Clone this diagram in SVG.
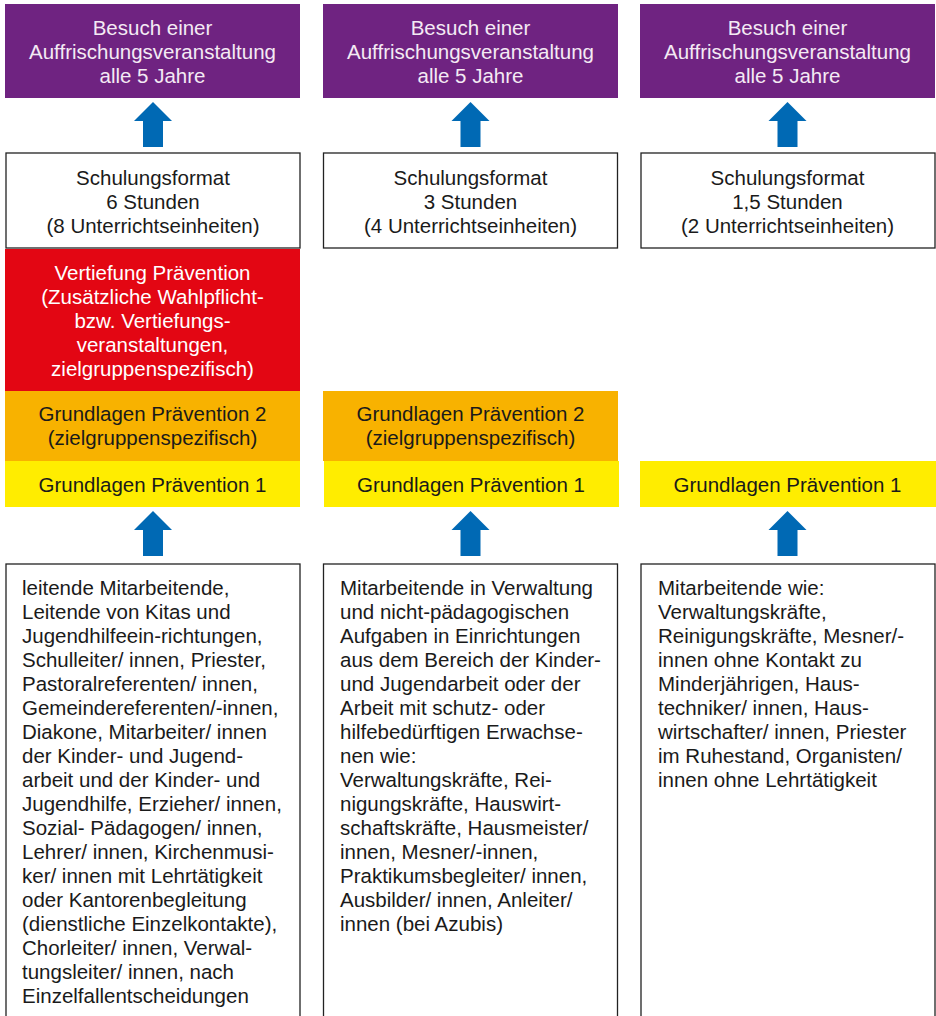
<svg xmlns="http://www.w3.org/2000/svg" width="936" height="1016" viewBox="0 0 936 1016">
<defs>
<style>
text{font-family:"Liberation Sans",Arial,sans-serif;font-size:20.5px;}
.c{text-anchor:middle;}
.lt{fill:#f4eaf4;}
.w{fill:#ffffff;}
.k{fill:#1a1a1a;}
.box{fill:#ffffff;stroke:#222222;stroke-width:1.3;}
.pur{fill:#6f2381;}
.red{fill:#e30613;}
.ora{fill:#f8b200;}
.yel{fill:#ffed00;}
.arr{fill:#0069b4;}
</style>
<polygon id="arrow" points="0,0 19,19 10,19 10,45 -10,45 -10,19 -19,19" class="arr"/>
</defs>

<g id="connectors">
<use href="#arrow" x="153" y="102"/>
<use href="#arrow" x="470.5" y="102"/>
<use href="#arrow" x="787.5" y="102"/>
<use href="#arrow" x="153" y="511"/>
<use href="#arrow" x="470.5" y="511"/>
<use href="#arrow" x="787.5" y="511"/>
</g>

<g id="refresh1">
<rect x="5" y="4" width="295" height="94" class="pur"/>
<text class="c lt"><tspan x="152.5" y="35">Besuch einer</tspan><tspan x="152.5" y="59">Auffrischungsveranstaltung</tspan><tspan x="152.5" y="83">alle 5 Jahre</tspan></text>
</g>
<g id="refresh2">
<rect x="323" y="4" width="295" height="94" class="pur"/>
<text class="c lt"><tspan x="470.5" y="35">Besuch einer</tspan><tspan x="470.5" y="59">Auffrischungsveranstaltung</tspan><tspan x="470.5" y="83">alle 5 Jahre</tspan></text>
</g>
<g id="refresh3">
<rect x="640" y="4" width="295" height="94" class="pur"/>
<text class="c lt"><tspan x="787.5" y="35">Besuch einer</tspan><tspan x="787.5" y="59">Auffrischungsveranstaltung</tspan><tspan x="787.5" y="83">alle 5 Jahre</tspan></text>
</g>

<g id="format1">
<rect x="6" y="153" width="294" height="95" class="box"/>
<text class="c k"><tspan x="153" y="185">Schulungsformat</tspan><tspan x="153" y="209">6 Stunden</tspan><tspan x="153" y="233">(8 Unterrichtseinheiten)</tspan></text>
</g>
<g id="format2">
<rect x="323.5" y="153" width="294" height="95" class="box"/>
<text class="c k"><tspan x="470.5" y="185">Schulungsformat</tspan><tspan x="470.5" y="209">3 Stunden</tspan><tspan x="470.5" y="233">(4 Unterrichtseinheiten)</tspan></text>
</g>
<g id="format3">
<rect x="641" y="153" width="294" height="95" class="box"/>
<text class="c k"><tspan x="787.5" y="185">Schulungsformat</tspan><tspan x="787.5" y="209">1,5 Stunden</tspan><tspan x="787.5" y="233">(2 Unterrichtseinheiten)</tspan></text>
</g>

<g id="vertiefung1">
<rect x="5" y="249" width="295" height="142" class="red"/>
<text class="c w"><tspan x="152.5" y="280">Vertiefung Prävention</tspan><tspan x="152.5" y="304">(Zusätzliche Wahlpflicht-</tspan><tspan x="152.5" y="328">bzw. Vertiefungs-</tspan><tspan x="152.5" y="352">veranstaltungen,</tspan><tspan x="152.5" y="376">zielgruppenspezifisch)</tspan></text>
</g>

<g id="grundlagen2a">
<rect x="5" y="391" width="295" height="70" class="ora"/>
<text class="c k"><tspan x="152.5" y="421">Grundlagen Prävention 2</tspan><tspan x="152.5" y="445">(zielgruppenspezifisch)</tspan></text>
</g>
<g id="grundlagen2b">
<rect x="323" y="391" width="295" height="70" class="ora"/>
<text class="c k"><tspan x="470.5" y="421">Grundlagen Prävention 2</tspan><tspan x="470.5" y="445">(zielgruppenspezifisch)</tspan></text>
</g>

<g id="grundlagen1a">
<rect x="5" y="461" width="295" height="46" class="yel"/>
<text class="c k" x="152.5" y="492">Grundlagen Prävention 1</text>
</g>
<g id="grundlagen1b">
<rect x="324" y="461" width="295" height="46" class="yel"/>
<text class="c k" x="471" y="492">Grundlagen Prävention 1</text>
</g>
<g id="grundlagen1c">
<rect x="640" y="461" width="296" height="46" class="yel"/>
<text class="c k" x="787.5" y="492">Grundlagen Prävention 1</text>
</g>

<g id="target1">
<rect x="6" y="564" width="294" height="470" class="box"/>
<text class="k">
<tspan x="22" y="595">leitende Mitarbeitende,</tspan>
<tspan x="22" y="619">Leitende von Kitas und</tspan>
<tspan x="22" y="643">Jugendhilfeein-richtungen,</tspan>
<tspan x="22" y="667">Schulleiter/ innen, Priester,</tspan>
<tspan x="22" y="691">Pastoralreferenten/ innen,</tspan>
<tspan x="22" y="715">Gemeindereferenten/-innen,</tspan>
<tspan x="22" y="739">Diakone, Mitarbeiter/ innen</tspan>
<tspan x="22" y="763">der Kinder- und Jugend-</tspan>
<tspan x="22" y="787">arbeit und der Kinder- und</tspan>
<tspan x="22" y="811">Jugendhilfe, Erzieher/ innen,</tspan>
<tspan x="22" y="835">Sozial- Pädagogen/ innen,</tspan>
<tspan x="22" y="859">Lehrer/ innen, Kirchenmusi-</tspan>
<tspan x="22" y="883">ker/ innen mit Lehrtätigkeit</tspan>
<tspan x="22" y="907">oder Kantorenbegleitung</tspan>
<tspan x="22" y="931">(dienstliche Einzelkontakte),</tspan>
<tspan x="22" y="955">Chorleiter/ innen, Verwal-</tspan>
<tspan x="22" y="979">tungsleiter/ innen, nach</tspan>
<tspan x="22" y="1003">Einzelfallentscheidungen</tspan>
</text>
</g>

<g id="target2">
<rect x="323.5" y="564" width="294" height="470" class="box"/>
<text class="k">
<tspan x="340" y="595">Mitarbeitende in Verwaltung</tspan>
<tspan x="340" y="619">und nicht-pädagogischen</tspan>
<tspan x="340" y="643">Aufgaben in Einrichtungen</tspan>
<tspan x="340" y="667">aus dem Bereich der Kinder-</tspan>
<tspan x="340" y="691">und Jugendarbeit oder der</tspan>
<tspan x="340" y="715">Arbeit mit schutz- oder</tspan>
<tspan x="340" y="739">hilfebedürftigen Erwachse-</tspan>
<tspan x="340" y="763">nen wie:</tspan>
<tspan x="340" y="787">Verwaltungskräfte, Rei-</tspan>
<tspan x="340" y="811">nigungskräfte, Hauswirt-</tspan>
<tspan x="340" y="835">schaftskräfte, Hausmeister/</tspan>
<tspan x="340" y="859">innen, Mesner/-innen,</tspan>
<tspan x="340" y="883">Praktikumsbegleiter/ innen,</tspan>
<tspan x="340" y="907">Ausbilder/ innen, Anleiter/</tspan>
<tspan x="340" y="931">innen (bei Azubis)</tspan>
</text>
</g>

<g id="target3">
<rect x="641" y="564" width="294" height="470" class="box"/>
<text class="k">
<tspan x="658" y="595">Mitarbeitende wie:</tspan>
<tspan x="658" y="619">Verwaltungskräfte,</tspan>
<tspan x="658" y="643">Reinigungskräfte, Mesner/-</tspan>
<tspan x="658" y="667">innen ohne Kontakt zu</tspan>
<tspan x="658" y="691">Minderjährigen, Haus-</tspan>
<tspan x="658" y="715">techniker/ innen, Haus-</tspan>
<tspan x="658" y="739">wirtschafter/ innen, Priester</tspan>
<tspan x="658" y="763">im Ruhestand, Organisten/</tspan>
<tspan x="658" y="787">innen ohne Lehrtätigkeit</tspan>
</text>
</g>
</svg>
